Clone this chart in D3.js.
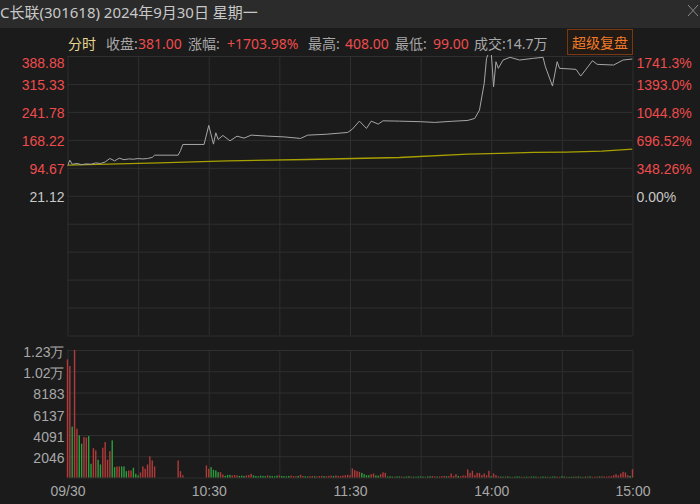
<!DOCTYPE html>
<html>
<head>
<meta charset="utf-8">
<script src="https://cdn.jsdelivr.net/npm/d3@7"></script>
<style>
    body { margin: 0; background: #1b1b1b; }
    svg { display: block; font-family: "Noto Sans", "Noto Sans CJK SC", sans-serif; }
</style>
</head>
<body>
<svg id="chart"></svg>
<script>
// previous close and tick labels
const preClose = 21.12
const priceStep = 73.552
const priceTicks = ['21.12', '94.67', '168.22', '241.78', '315.33', '388.88']
const pctTicks = ['0.00%', '348.26%', '696.52%', '1044.8%', '1393.0%', '1741.3%']
const volStep = 2046
const volTicks = ['2046', '4091', '6137', '8183', '1.02万', '1.23万']
const timeTicks = [0, 60, 120, 180, 240]
const timeLabels = ['09/30', '10:30', '11:30', '14:00', '15:00']

// price line, [minute, price]
const pricePts = [
    [0, 100], [1, 114.7], [2, 104], [4, 106], [6, 103], [8, 105], [10, 104], [12, 107.6], [14, 106],
    [16, 110], [18, 119.2], [20, 113], [22, 120], [24, 116], [26, 118], [28, 117.3], [30, 119],
    [32, 118], [34, 119.2], [36, 122], [37, 127.9], [47, 127.9], [48, 140], [49, 156.1], [58, 156.1],
    [60, 206.2], [62, 156.9], [63, 186.7], [64, 169.3], [66, 179.8], [69, 165.6], [72, 177.9],
    [75, 172.7], [78, 180.6], [85, 178], [92, 176], [99, 171.9], [102, 180.6], [110, 183],
    [119, 187.7], [121, 196.4], [124, 217.5], [127, 198.3], [129, 217.5], [132, 209.6], [134, 218.3],
    [141, 217.5], [150, 216], [156, 214.1], [163, 217], [170, 219.3], [173, 224.6], [175, 246.5],
    [177, 316.9], [178, 382.8], [179, 398], [180, 398], [181, 307.9], [182, 373.8], [183, 356.4],
    [185, 378.3], [188, 385.4], [192, 378.3], [198, 382.8], [202, 385.4], [203, 360.6], [206, 309.8],
    [208, 373.8], [209, 356.4], [216, 353.8], [218, 336.1], [220, 351.9], [223, 376.5], [225, 366.9],
    [232, 365.1], [236, 378.3], [240, 381]
]

// average price line, [minute, price]
const avgPts = [
    [0, 101.5], [39, 107.6], [68, 112.9], [102, 116.5], [141, 121.8], [170, 130.5],
    [198, 135], [212, 135.8], [227, 138.4], [240, 143.7]
]

// per-minute volume (241 minutes)
const volume = [
    11377, 10730, 4900, 12276, 4700, 4060, 3260, 3896, 3840, 3990, 1324, 2830, 2610, 1711, 1257, 2871, 3412, 1711, 2542, 3576,
    996, 1063, 1063, 1063, 1063, 609, 677, 677, 938, 357, 193, 483, 1063, 838, 1257, 2030, 1643, 1063,
    0, 0, 0, 0, 0, 0, 0, 0, 0,
    1643, 609, 222,
    0, 0, 0, 0, 0, 0, 0, 0, 0,
    1160, 838, 996, 741, 677, 512, 512, 290, 161, 250, 250, 200, 230, 200, 150,
    180, 150, 200, 230, 357, 200, 150, 120, 180, 150, 130, 200, 160, 140, 120, 180, 200, 150, 130, 110, 150, 180, 140, 120, 160,
    250, 150, 120, 100, 130, 150, 120, 100, 140, 160, 130, 120, 150, 180, 140, 200, 160, 150, 180, 220, 260, 220,
    870, 708, 612, 545, 448, 320, 224, 224, 320, 384, 200, 180, 320, 500, 448,
    100, 120, 90, 80, 110, 100, 90, 70, 100, 120, 90, 80, 70, 100, 110, 90, 80, 100, 120, 140, 110, 90, 100, 130, 150, 120, 140,
    384, 150, 320, 150, 120, 200, 180, 770, 448, 650, 224, 448, 448, 224, 384, 224, 650, 126, 384, 224,
    120, 100, 80, 90, 110, 70, 60, 80, 100, 90, 70, 60, 80, 70, 90, 100, 80, 60, 70, 90,
    80, 70, 60, 90, 100, 80, 70, 120, 90, 80, 60, 70, 80, 90, 100, 70, 60, 80, 90, 110,
    70, 80, 90, 100, 120, 100, 90, 110, 130,
    224, 320, 200, 384, 545, 490, 224, 150, 800
]
// 1 = up (red), -1 = down (green)
const volumeDir = [
    1, 1, -1, 1, 1, -1, -1, 1, 1, -1, -1, 1, 1, -1, -1, 1, 1, 1, 1, -1,
    -1, 1, 1, -1, -1, -1, 1, 1, -1, -1, -1, 1, 1, 1, 1, 1, 1, 1,
    1, 1, 1, 1, 1, 1, 1, 1, 1,
    1, 1, 1,
    1, 1, 1, 1, 1, 1, 1, 1, 1,
    1, 1, -1, -1, -1, -1, 1, 1, -1, -1, -1, 1, 1, 1, -1,
    -1, -1, 1, 1, 1, -1, -1, -1, -1, -1, -1, 1, -1, -1, -1, -1, 1, -1, -1, -1, -1, 1, 1, 1, -1,
    1, 1, -1, -1, 1, 1, -1, 1, 1, 1, -1, 1, 1, 1, -1, 1, 1, 1, 1, 1, 1, 1,
    1, 1, 1, 1, -1, -1, -1, -1, 1, 1, -1, -1, 1, 1, 1,
    -1, -1, -1, 1, -1, -1, 1, -1, -1, -1, 1, -1, -1, -1, -1, -1, 1, -1, -1, 1, 1, -1, 1, 1, 1, -1, 1,
    1, 1, 1, -1, 1, 1, 1, 1, 1, 1, 1, 1, 1, 1, 1, 1, 1, -1, 1, 1,
    1, -1, -1, 1, -1, -1, 1, -1, -1, -1, 1, -1, -1, 1, -1, -1, -1, 1, -1, -1,
    -1, 1, -1, -1, -1, 1, 1, -1, -1, 1, -1, -1, -1, 1, -1, -1, 1, -1, 1, -1,
    1, 1, 1, -1, 1, 1, 1, 1, 1,
    1, 1, 1, 1, 1, 1, 1, -1, 1
]

const width = 700
const height = 504
const left = 67.5, right = 632.5
const priceTop = 56, priceBottom = 335.5
const volTop = 350, volBottom = 477.5

const RED = '#ee4c4c'
const GRID = '#2f2f2f'

const svg = d3.select('#chart')
    .attr('width', width)
    .attr('height', height)
    .attr('viewBox', [0, 0, width, height])

svg.append('rect').attr('width', width).attr('height', height).attr('fill', '#1b1b1b')

// header band
svg.append('rect').attr('width', width).attr('height', 28).attr('fill', '#2b2b2b')
svg.append('text')
    .attr('x', 0).attr('y', 18)
    .attr('fill', '#c8c8c8').attr('font-size', 15)
    .text('C长联(301618) 2024年9月30日 星期一')
svg.append('path')
    .attr('d', 'M688,5L698,16M698,5L688,16')
    .attr('stroke', '#8a8a8a').attr('stroke-width', 1)

// info row
const info = [
    { x: 68, t: '分时', c: '#e6d590' },
    { x: 106, t: '收盘:', c: '#a8a8a8' },
    { x: 138, t: '381.00', c: RED },
    { x: 188, t: '涨幅:', c: '#a8a8a8' },
    { x: 227, t: '+1703.98%', c: RED },
    { x: 308, t: '最高:', c: '#a8a8a8' },
    { x: 345, t: '408.00', c: RED },
    { x: 395, t: '最低:', c: '#a8a8a8' },
    { x: 433, t: '99.00', c: RED },
    { x: 474, t: '成交:14.7万', c: '#a8a8a8' }
]
svg.append('g').selectAll('text')
    .data(info)
    .join('text')
    .attr('x', d => d.x).attr('y', 49)
    .attr('fill', d => d.c).attr('font-size', 14)
    .text(d => d.t)

svg.append('rect')
    .attr('x', 567.5).attr('y', 29.5).attr('width', 65).attr('height', 25)
    .attr('fill', '#221a15').attr('stroke', '#7a3812')
svg.append('text')
    .attr('x', 600).attr('y', 48).attr('text-anchor', 'middle')
    .attr('fill', '#f07a28').attr('font-size', 14)
    .text('超级复盘')

// scales
const x = d3.scaleLinear().domain([0, 240]).range([left, right])
const yPrice = d3.scaleLinear()
    .domain([preClose - 5 * priceStep, preClose + 5 * priceStep])
    .range([priceBottom, priceTop])
const yVol = d3.scaleLinear().domain([0, 6 * volStep]).range([volBottom, volTop])

const priceGridVals = d3.range(-5, 6).map(k => preClose + k * priceStep)
const priceTickVals = d3.range(0, 6).map(k => preClose + k * priceStep)
const volGridVals = d3.range(0, 7).map(k => k * volStep)
const volTickVals = d3.range(1, 7).map(k => k * volStep)

function styleGrid(g) {
    g.select('.domain').remove()
    g.selectAll('line').attr('stroke', GRID)
}

// horizontal grid
svg.append('g')
    .attr('transform', `translate(${left},0)`)
    .call(d3.axisRight(yPrice).tickValues(priceGridVals).tickSize(right - left).tickFormat(''))
    .call(styleGrid)
svg.append('g')
    .attr('transform', `translate(${left},0)`)
    .call(d3.axisRight(yVol).tickValues(volGridVals).tickSize(right - left).tickFormat(''))
    .call(styleGrid)

// vertical grid
const vGrid = d3.range(0, 241, 30)
svg.append('g')
    .attr('transform', `translate(0,${priceTop})`)
    .call(d3.axisBottom(x).tickValues(vGrid).tickSize(priceBottom - priceTop).tickFormat(''))
    .call(styleGrid)
svg.append('g')
    .attr('transform', `translate(0,${volTop})`)
    .call(d3.axisBottom(x).tickValues(vGrid).tickSize(volBottom - volTop).tickFormat(''))
    .call(styleGrid)

// left price labels
const leftAxis = svg.append('g')
    .attr('transform', `translate(${left - 3},0)`)
    .call(d3.axisLeft(yPrice).tickValues(priceTickVals).tickSize(0).tickPadding(0)
        .tickFormat((d, i) => priceTicks[i]))
leftAxis.select('.domain').remove()
leftAxis.selectAll('text')
    .attr('font-size', 14).attr('font-family', null)
    .attr('fill', (d, i) => i === 0 ? '#c8c8c8' : RED)
    .attr('dy', (d, i) => i === 5 ? '0.85em' : '0.42em')

// right percent labels
const rightAxis = svg.append('g')
    .attr('transform', `translate(${right + 4},0)`)
    .call(d3.axisRight(yPrice).tickValues(priceTickVals).tickSize(0).tickPadding(0)
        .tickFormat((d, i) => pctTicks[i]))
rightAxis.select('.domain').remove()
rightAxis.selectAll('text')
    .attr('font-size', 14).attr('font-family', null)
    .attr('fill', (d, i) => i === 0 ? '#c8c8c8' : RED)
    .attr('dy', (d, i) => i === 5 ? '0.85em' : '0.42em')

// volume labels
const volAxis = svg.append('g')
    .attr('transform', `translate(${left - 3},0)`)
    .call(d3.axisLeft(yVol).tickValues(volTickVals).tickSize(0).tickPadding(0)
        .tickFormat((d, i) => volTicks[i]))
volAxis.select('.domain').remove()
volAxis.selectAll('text')
    .attr('font-size', 14).attr('font-family', null)
    .attr('fill', '#a8a8a8')
    .attr('dy', '0.45em')

// time labels
const timeAxis = svg.append('g')
    .attr('transform', `translate(0,${volBottom})`)
    .call(d3.axisBottom(x).tickValues(timeTicks).tickSize(0).tickPadding(9)
        .tickFormat((d, i) => timeLabels[i]))
timeAxis.select('.domain').remove()
timeAxis.selectAll('text')
    .attr('font-size', 14).attr('font-family', null)
    .attr('fill', '#a8a8a8')

// clip for price panel
svg.append('clipPath').attr('id', 'pclip')
    .append('rect')
    .attr('x', left).attr('y', priceTop - 1)
    .attr('width', right - left).attr('height', priceBottom - priceTop + 1)

const line = d3.line().x(d => x(d[0])).y(d => yPrice(d[1]))

svg.append('path')
    .datum(avgPts)
    .attr('clip-path', 'url(#pclip)')
    .attr('d', line)
    .attr('fill', 'none')
    .attr('stroke', '#a8a000')
    .attr('stroke-width', 1.3)

svg.append('path')
    .datum(pricePts)
    .attr('clip-path', 'url(#pclip)')
    .attr('d', line)
    .attr('fill', 'none')
    .attr('stroke', '#a6a6a6')
    .attr('stroke-width', 1)

// volume bars
svg.append('g')
    .selectAll('rect')
    .data(volume.map((v, i) => ({ i, v, up: volumeDir[i] > 0 })).filter(d => d.v > 0))
    .join('rect')
    .attr('x', d => x(d.i) - 0.7)
    .attr('width', 1.4)
    .attr('y', d => yVol(d.v))
    .attr('height', d => yVol(0) - yVol(d.v))
    .attr('fill', d => d.up ? '#b23a3a' : '#2aa03c')
</script>
</body>
</html>
